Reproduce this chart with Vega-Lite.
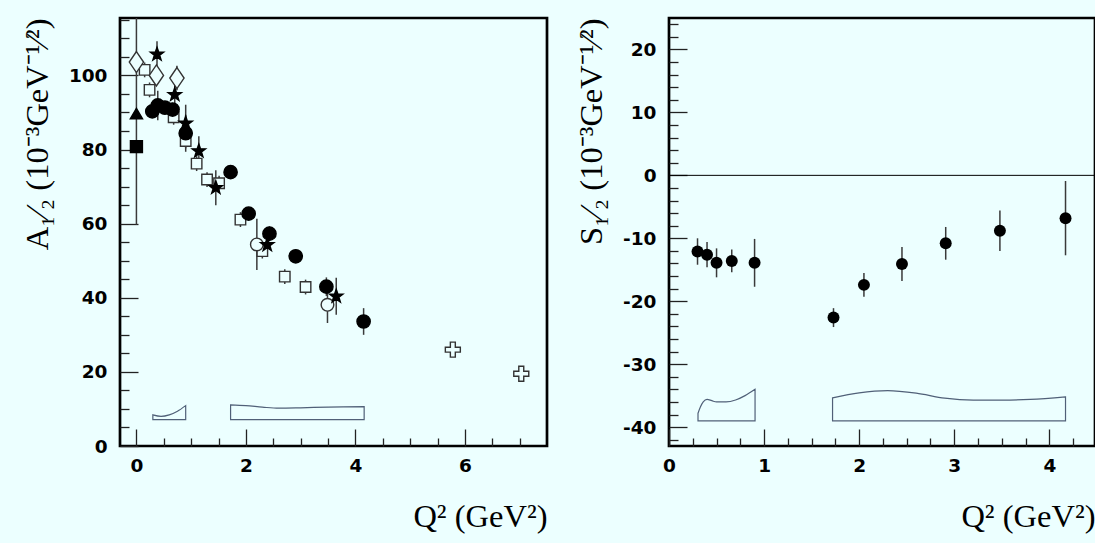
{
  "$schema": "https://vega.github.io/schema/vega-lite/v6.json",
  "background": "#ecffff",
  "padding": {"left": 20, "top": 9, "right": 2, "bottom": 27},
  "spacing": 25,
  "config": {
    "view": {"stroke": "black", "strokeWidth": 2.7},
    "axis": {
      "domain": false, "grid": false,
      "labelFont": "DejaVu Sans", "labelFontWeight": "bold", "labelFontSize": 18.5, "labelColor": "black",
      "labelFlush": false, "labelOverlap": false,
      "titleFont": "Liberation Serif", "titleFontWeight": "normal", "titleFontSize": 32.5, "titleColor": "black",
      "tickColor": "#222", "tickWidth": 1.3, "tickSize": 0
    }
  },
  "datasets": {
    "pointsA": [
      {"set": "sq_open", "x": 0.15, "y": 101.5, "lo": 99.5, "hi": 103.5},
      {"set": "sq_open", "x": 0.24, "y": 96.1, "lo": 94.1, "hi": 98.1},
      {"set": "sq_open", "x": 0.68, "y": 88.7, "lo": 86.7, "hi": 90.7},
      {"set": "sq_open", "x": 0.90, "y": 82.3, "lo": 80.3, "hi": 84.3},
      {"set": "sq_open", "x": 1.10, "y": 76.2, "lo": 74.2, "hi": 78.2},
      {"set": "sq_open", "x": 1.29, "y": 71.9, "lo": 69.9, "hi": 73.9},
      {"set": "sq_open", "x": 1.51, "y": 70.9, "lo": 68.9, "hi": 72.9},
      {"set": "sq_open", "x": 1.90, "y": 61.1, "lo": 59.1, "hi": 63.1},
      {"set": "sq_open", "x": 2.30, "y": 52.6, "lo": 50.6, "hi": 54.6},
      {"set": "sq_open", "x": 2.71, "y": 45.7, "lo": 43.7, "hi": 47.7},
      {"set": "sq_open", "x": 3.09, "y": 42.9, "lo": 40.9, "hi": 44.9},
      {"set": "diamond", "x": 0.0, "y": 103.6},
      {"set": "diamond", "x": 0.365, "y": 100.0},
      {"set": "diamond", "x": 0.74, "y": 99.3, "lo": 96.0, "hi": 102.6},
      {"set": "circ_open", "x": 2.20, "y": 54.4, "lo": 47.5, "hi": 61.3},
      {"set": "circ_open", "x": 3.49, "y": 38.1, "lo": 33.2, "hi": 43.0},
      {"set": "cross", "x": 5.78, "y": 26.0},
      {"set": "cross", "x": 7.03, "y": 19.5},
      {"set": "sq_filled", "x": 0.0, "y": 80.8},
      {"set": "tri", "x": 0.0, "y": 89.7, "lo": 59.7, "hi": 119.7},
      {"set": "circ_filled", "x": 0.29, "y": 90.3},
      {"set": "circ_filled", "x": 0.39, "y": 91.9, "lo": 87.9, "hi": 95.9},
      {"set": "circ_filled", "x": 0.52, "y": 91.3},
      {"set": "circ_filled", "x": 0.66, "y": 90.8},
      {"set": "circ_filled", "x": 0.90, "y": 84.4, "lo": 79.4, "hi": 89.4},
      {"set": "circ_filled", "x": 1.72, "y": 73.9, "lo": 72.4, "hi": 75.4},
      {"set": "circ_filled", "x": 2.05, "y": 62.7, "lo": 61.2, "hi": 64.2},
      {"set": "circ_filled", "x": 2.43, "y": 57.3, "lo": 55.3, "hi": 59.3},
      {"set": "circ_filled", "x": 2.91, "y": 51.2, "lo": 49.7, "hi": 52.7},
      {"set": "circ_filled", "x": 3.47, "y": 43.0, "lo": 40.5, "hi": 45.5},
      {"set": "circ_filled", "x": 4.15, "y": 33.6, "lo": 30.0, "hi": 37.2},
      {"set": "star", "x": 0.376, "y": 105.7, "lo": 102.2, "hi": 109.2},
      {"set": "star", "x": 0.70, "y": 94.8, "lo": 90.8, "hi": 98.8},
      {"set": "star", "x": 0.90, "y": 87.1, "lo": 82.1, "hi": 92.1},
      {"set": "star", "x": 1.14, "y": 79.6, "lo": 75.6, "hi": 83.6},
      {"set": "star", "x": 1.45, "y": 69.7, "lo": 65.0, "hi": 74.4},
      {"set": "star", "x": 2.39, "y": 54.3, "lo": 52.3, "hi": 56.3},
      {"set": "star", "x": 3.65, "y": 40.4, "lo": 35.4, "hi": 45.4}
    ],
    "bandsA": [
      {"band": 1, "x": 0.30, "top": 8.4, "bottom": 7.1},
      {"band": 1, "x": 0.45, "top": 8.0, "bottom": 7.1},
      {"band": 1, "x": 0.60, "top": 8.4, "bottom": 7.1},
      {"band": 1, "x": 0.75, "top": 9.4, "bottom": 7.1},
      {"band": 1, "x": 0.90, "top": 10.9, "bottom": 7.1},
      {"band": 2, "x": 1.72, "top": 11.1, "bottom": 7.1},
      {"band": 2, "x": 2.0, "top": 10.9, "bottom": 7.1},
      {"band": 2, "x": 2.3, "top": 10.5, "bottom": 7.1},
      {"band": 2, "x": 2.6, "top": 10.2, "bottom": 7.1},
      {"band": 2, "x": 3.0, "top": 10.3, "bottom": 7.1},
      {"band": 2, "x": 3.5, "top": 10.5, "bottom": 7.1},
      {"band": 2, "x": 4.16, "top": 10.6, "bottom": 7.1}
    ],
    "pointsS": [
      {"x": 0.30, "y": -12.1, "lo": -14.2, "hi": -10.0},
      {"x": 0.40, "y": -12.6, "lo": -14.6, "hi": -10.6},
      {"x": 0.50, "y": -13.9, "lo": -16.2, "hi": -11.6},
      {"x": 0.66, "y": -13.6, "lo": -15.4, "hi": -11.8},
      {"x": 0.90, "y": -13.9, "lo": -17.7, "hi": -10.1},
      {"x": 1.73, "y": -22.6, "lo": -24.1, "hi": -21.1},
      {"x": 2.05, "y": -17.4, "lo": -19.3, "hi": -15.5},
      {"x": 2.45, "y": -14.1, "lo": -16.8, "hi": -11.4},
      {"x": 2.91, "y": -10.8, "lo": -13.4, "hi": -8.2},
      {"x": 3.48, "y": -8.8, "lo": -12.0, "hi": -5.6},
      {"x": 4.17, "y": -6.8, "lo": -12.7, "hi": -0.9}
    ],
    "bandsS": [
      {"band": 1, "x": 0.305, "top": -37.8, "bottom": -39.0},
      {"band": 1, "x": 0.33, "top": -36.8, "bottom": -39.0},
      {"band": 1, "x": 0.36, "top": -36.0, "bottom": -39.0},
      {"band": 1, "x": 0.40, "top": -35.6, "bottom": -39.0},
      {"band": 1, "x": 0.45, "top": -35.8, "bottom": -39.0},
      {"band": 1, "x": 0.50, "top": -36.0, "bottom": -39.0},
      {"band": 1, "x": 0.60, "top": -36.0, "bottom": -39.0},
      {"band": 1, "x": 0.70, "top": -35.7, "bottom": -39.0},
      {"band": 1, "x": 0.80, "top": -35.0, "bottom": -39.0},
      {"band": 1, "x": 0.905, "top": -34.0, "bottom": -39.0},
      {"band": 2, "x": 1.72, "top": -35.35, "bottom": -39.0},
      {"band": 2, "x": 2.0, "top": -34.55, "bottom": -39.0},
      {"band": 2, "x": 2.3, "top": -34.2, "bottom": -39.0},
      {"band": 2, "x": 2.6, "top": -34.6, "bottom": -39.0},
      {"band": 2, "x": 2.9, "top": -35.4, "bottom": -39.0},
      {"band": 2, "x": 3.2, "top": -35.7, "bottom": -39.0},
      {"band": 2, "x": 3.5, "top": -35.7, "bottom": -39.0},
      {"band": 2, "x": 3.8, "top": -35.6, "bottom": -39.0},
      {"band": 2, "x": 4.17, "top": -35.2, "bottom": -39.0}
    ],
    "zeroS": [{"z": 0}]
  },
  "hconcat": [
    {
      "width": 427,
      "height": 428,
      "layer": [
        {
          "data": {"name": "bandsA"},
          "mark": {"type": "area", "fillOpacity": 0, "stroke": "#506078", "strokeWidth": 1.2, "interpolate": "monotone"},
          "encoding": {
            "x": {"field": "x", "type": "quantitative", "scale": {"domain": [-0.3, 7.5], "nice": false, "zero": false},
              "axis": {
                "title": "Q² (GeV²)",
                "values": [0, 0.5, 1, 1.5, 2, 2.5, 3, 3.5, 4, 4.5, 5, 5.5, 6, 6.5, 7],
                "tickCount": 200,
                "labelExpr": "datum.value % 2 === 0 ? '' + datum.value : ''",
                "labelOverlap": false,
                "encoding": {"ticks": {"y2": {"condition": {"test": "datum.value % 2 === 0", "value": -17}, "value": -8}}},
                "labelPadding": 10,
                "titleAnchor": "end", "titleAlign": "right", "titlePadding": 26
              }},
            "y": {"field": "top", "type": "quantitative", "scale": {"domain": [0, 115.5], "nice": false, "zero": false},
              "axis": {
                "title": "A₁⁄₂ (10⁻³GeV⁻¹⁄²)",
                "values": [0, 5, 10, 15, 20, 25, 30, 35, 40, 45, 50, 55, 60, 65, 70, 75, 80, 85, 90, 95, 100, 105, 110, 115],
                "tickCount": 200,
                "labelExpr": "datum.value % 20 === 0 ? '' + datum.value : ''",
                "labelOverlap": false,
                "encoding": {"ticks": {"x2": {"condition": {"test": "datum.value % 20 === 0", "value": 18}, "value": 9}}},
                "labelPadding": 13,
                "titleAnchor": "end", "titleAlign": "right", "titlePadding": 14
              }},
            "y2": {"field": "bottom"},
            "detail": {"field": "band"}
          }
        },
        {
          "data": {"name": "pointsA"},
          "transform": [{"filter": "datum.lo != null"}],
          "mark": {"type": "rule", "color": "#3a3a3a", "strokeWidth": 1.5, "clip": true},
          "encoding": {
            "x": {"field": "x", "type": "quantitative", "scale": {"domain": [-0.3, 7.5], "nice": false, "zero": false}},
            "y": {"field": "lo", "type": "quantitative", "scale": {"domain": [0, 115.5], "nice": false, "zero": false}},
            "y2": {"field": "hi"}
          }
        },
        {
          "data": {"name": "pointsA"},
          "mark": {"type": "point", "filled": true, "strokeWidth": 1.4, "opacity": 1},
          "encoding": {
            "x": {"field": "x", "type": "quantitative", "scale": {"domain": [-0.3, 7.5], "nice": false, "zero": false}},
            "y": {"field": "y", "type": "quantitative", "scale": {"domain": [0, 115.5], "nice": false, "zero": false}},
            "shape": {"field": "set", "type": "nominal", "legend": null,
              "scale": {"domain": ["sq_filled", "tri", "diamond", "star", "sq_open", "circ_filled", "circ_open", "cross"],
                "range": ["square", "triangle-up", "M0,-1L0.68,0L0,1L-0.68,0Z",
                  "M0,-1L0.235,-0.324L0.951,-0.309L0.38,0.124L0.588,0.809L0,0.4L-0.588,0.809L-0.38,0.124L-0.951,-0.309L-0.235,-0.324Z",
                  "square", "circle", "circle",
                  "M-0.33,-1L0.33,-1L0.33,-0.33L1,-0.33L1,0.33L0.33,0.33L0.33,1L-0.33,1L-0.33,0.33L-1,0.33L-1,-0.33L-0.33,-0.33Z"]}},
            "size": {"field": "set", "type": "nominal", "legend": null,
              "scale": {"type": "ordinal", "domain": ["sq_filled", "tri", "diamond", "star", "sq_open", "circ_filled", "circ_open", "cross"],
                "range": [144, 150, 441, 196, 110, 177, 160, 225]}},
            "fill": {"field": "set", "type": "nominal", "legend": null,
              "scale": {"domain": ["sq_filled", "tri", "diamond", "star", "sq_open", "circ_filled", "circ_open", "cross"],
                "range": ["black", "black", "#ecffff", "black", "#ecffff", "black", "#ecffff", "#ecffff"]}},
            "stroke": {"field": "set", "type": "nominal", "legend": null,
              "scale": {"domain": ["sq_filled", "tri", "diamond", "star", "sq_open", "circ_filled", "circ_open", "cross"],
                "range": ["black", "black", "#333333", "black", "#333333", "black", "#333333", "#333333"]}}
          }
        }
      ]
    },
    {
      "width": 426,
      "height": 428,
      "layer": [
        {
          "data": {"name": "bandsS"},
          "mark": {"type": "area", "fillOpacity": 0, "stroke": "#506078", "strokeWidth": 1.2, "interpolate": "monotone"},
          "encoding": {
            "x": {"field": "x", "type": "quantitative", "scale": {"domain": [0, 4.48], "nice": false, "zero": false},
              "axis": {
                "title": "Q² (GeV²)",
                "values": [0, 0.25, 0.5, 0.75, 1, 1.25, 1.5, 1.75, 2, 2.25, 2.5, 2.75, 3, 3.25, 3.5, 3.75, 4, 4.25],
                "tickCount": 200,
                "labelExpr": "datum.value % 1 === 0 ? '' + datum.value : ''",
                "labelOverlap": false,
                "encoding": {"ticks": {"y2": {"condition": {"test": "datum.value % 1 === 0", "value": -17}, "value": -8}}},
                "labelPadding": 10,
                "titleAnchor": "end", "titleAlign": "right", "titlePadding": 26
              }},
            "y": {"field": "top", "type": "quantitative", "scale": {"domain": [-43, 25], "nice": false, "zero": false},
              "axis": {
                "title": "S₁⁄₂ (10⁻³GeV⁻¹⁄²)",
                "values": [-42, -40, -38, -36, -34, -32, -30, -28, -26, -24, -22, -20, -18, -16, -14, -12, -10, -8, -6, -4, -2, 0, 2, 4, 6, 8, 10, 12, 14, 16, 18, 20, 22, 24],
                "tickCount": 200,
                "labelExpr": "datum.value % 10 === 0 ? '' + datum.value : ''",
                "labelOverlap": false,
                "encoding": {"ticks": {"x2": {"condition": {"test": "datum.value % 10 === 0", "value": 18}, "value": 9}}},
                "labelPadding": 13,
                "titleAnchor": "end", "titleAlign": "right", "titlePadding": 14
              }},
            "y2": {"field": "bottom"},
            "detail": {"field": "band"}
          }
        },
        {
          "data": {"name": "zeroS"},
          "mark": {"type": "rule", "color": "black", "strokeWidth": 1},
          "encoding": {
            "y": {"field": "z", "type": "quantitative", "scale": {"domain": [-43, 25], "nice": false, "zero": false}}
          }
        },
        {
          "data": {"name": "pointsS"},
          "mark": {"type": "rule", "color": "#3a3a3a", "strokeWidth": 1.5},
          "encoding": {
            "x": {"field": "x", "type": "quantitative", "scale": {"domain": [0, 4.48], "nice": false, "zero": false}},
            "y": {"field": "lo", "type": "quantitative", "scale": {"domain": [-43, 25], "nice": false, "zero": false}},
            "y2": {"field": "hi"}
          }
        },
        {
          "data": {"name": "pointsS"},
          "mark": {"type": "circle", "color": "black", "size": 143, "opacity": 1},
          "encoding": {
            "x": {"field": "x", "type": "quantitative", "scale": {"domain": [0, 4.48], "nice": false, "zero": false}},
            "y": {"field": "y", "type": "quantitative", "scale": {"domain": [-43, 25], "nice": false, "zero": false}}
          }
        }
      ]
    }
  ]
}
